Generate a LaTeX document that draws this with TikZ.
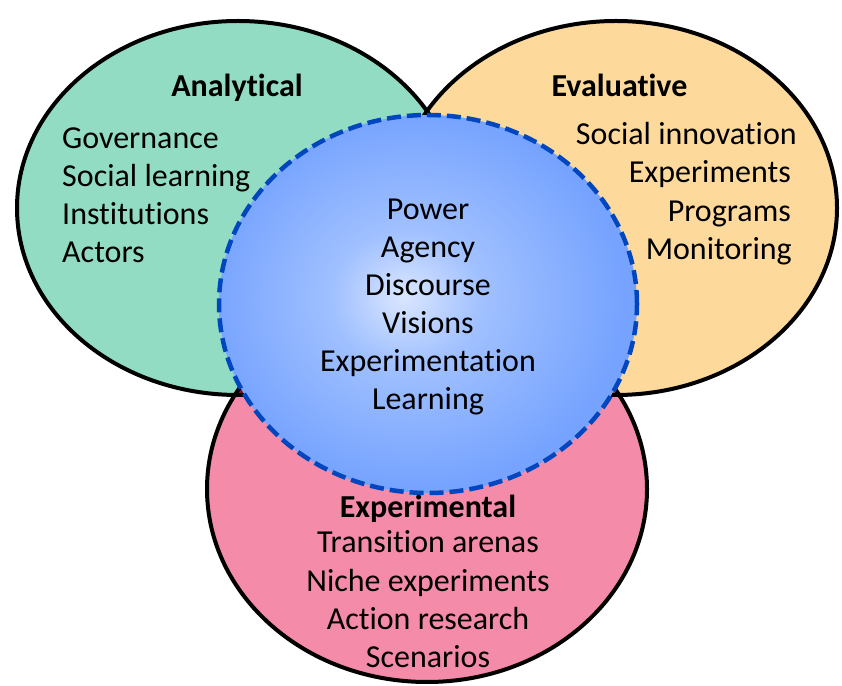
\documentclass[tikz,border=0pt]{standalone}
\usepackage{fontspec}
\setmainfont{Carlito}[Ligatures=NoCommon]
\definecolor{gfill}{RGB}{147,220,196}
\definecolor{ofill}{RGB}{253,218,156}
\definecolor{pfill}{RGB}{244,139,169}
\definecolor{gomix}{RGB}{150,110,50}
\definecolor{gpmix}{RGB}{140,20,45}
\definecolor{opmix}{RGB}{160,90,60}
\definecolor{bedge}{RGB}{0,70,190}
\definecolor{bin}{RGB}{218,230,255}
\definecolor{bmid}{RGB}{160,192,255}
\definecolor{bout}{RGB}{118,163,255}
\pgfdeclareradialshading{blueglow}{\pgfpoint{-3bp}{1bp}}{color(0bp)=(bin); color(9bp)=(bmid); color(25bp)=(bout); color(50bp)=(bout)}
\tikzset{
  txt/.style={inner sep=0pt, font=\fontsize{32}{38}\selectfont},
  head/.style={txt, font=\fontsize{32}{38}\selectfont\bfseries},
  outline/.style={draw=black, line width=4pt},
  dashring/.style={draw=bedge, line width=4.5pt, dash pattern=on 14pt off 6pt}
}
\begin{document}
\begin{tikzpicture}[x=1pt,y=1pt]
\path[use as bounding box] (0,0) rectangle (842,685);
% fills
\fill[gfill] (238,477) ellipse [x radius=221, y radius=187];
\fill[ofill] (616,477) ellipse [x radius=221, y radius=187];
\fill[pfill] (427,196) ellipse [x radius=220, y radius=193];
\begin{scope}
  \clip (238,477) ellipse [x radius=221, y radius=187];
  \fill[gomix] (616,477) ellipse [x radius=221, y radius=187];
  \fill[gpmix] (427,196) ellipse [x radius=220, y radius=193];
\end{scope}
\begin{scope}
  \clip (616,477) ellipse [x radius=221, y radius=187];
  \fill[opmix] (427,196) ellipse [x radius=220, y radius=193];
\end{scope}
% outlines
\draw[outline] (238,477) ellipse [x radius=221, y radius=187];
\draw[outline] (616,477) ellipse [x radius=221, y radius=187];
\draw[outline] (427,196) ellipse [x radius=220, y radius=193];
% centre circle
\shade[shading=blueglow] (428,381) ellipse [x radius=209, y radius=189];
\draw[dashring] (428,381) ellipse [x radius=209, y radius=189];

% Analytical
\node[head, anchor=base] (ah) at (237,588) {Analytical};
\node[txt, anchor=base west] (a1) at (62,536) {Governance};
\node[txt, anchor=base west] (a2) at (62,498) {Social learning};
\node[txt, anchor=base west] (a3) at (62,460) {Institutions};
\node[txt, anchor=base west] (a4) at (62,422) {Actors};

% Evaluative
\node[head, anchor=base] (eh) at (619.5,588) {Evaluative};
\node[txt, anchor=base east] (e1) at (797,540) {Social innovation};
\node[txt, anchor=base east] (e2) at (791,502) {Experiments};
\node[txt, anchor=base east] (e3) at (791,463) {Programs};
\node[txt, anchor=base east] (e4) at (792,425) {Monitoring};

% Centre
\node[txt, anchor=base] (c1) at (428,465) {Power};
\node[txt, anchor=base] (c2) at (428,427) {Agency};
\node[txt, anchor=base] (c3) at (428,389) {Discourse};
\node[txt, anchor=base] (c4) at (428,351) {Visions};
\node[txt, anchor=base] (c5) at (428,313) {Experimentation};
\node[txt, anchor=base] (c6) at (428,275) {Learning};

% Experimental
\node[head, anchor=base] (xh) at (428,167) {Experimental};
\node[txt, anchor=base] (x1) at (428,132) {Transition arenas};
\node[txt, anchor=base] (x2) at (428,94) {Niche experiments};
\node[txt, anchor=base] (x3) at (428,56) {Action research};
\node[txt, anchor=base] (x4) at (428,18) {Scenarios};
\end{tikzpicture}
\end{document}
